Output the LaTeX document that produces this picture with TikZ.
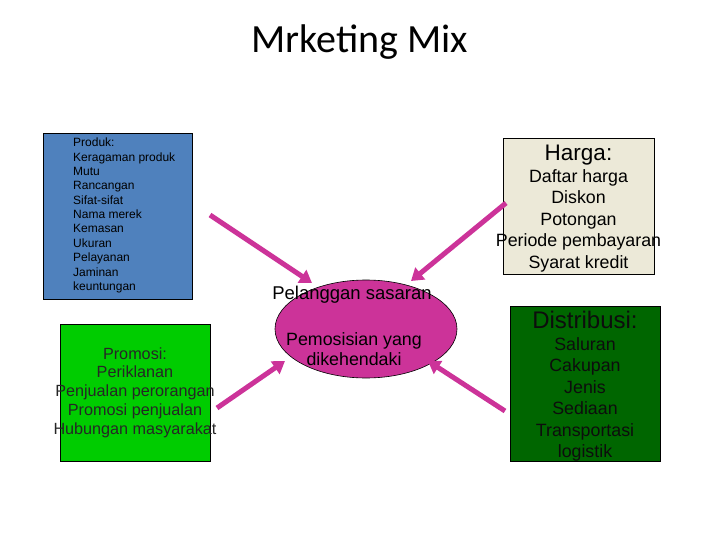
\documentclass[tikz,border=0pt]{standalone}
\usepackage{fontspec}
\setmainfont{Liberation Sans}
\newfontfamily\titlefont{Carlito}
\usetikzlibrary{arrows.meta}
\definecolor{bluebox}{HTML}{4F81BD}
\definecolor{hargabox}{HTML}{ECE9D8}
\definecolor{greenbox}{HTML}{00CC00}
\definecolor{darkgreenbox}{HTML}{006600}
\definecolor{magentaarrow}{HTML}{CC3399}
\tikzset{
  boxstyle/.style={draw=black, line width=0.8pt, inner sep=0pt, anchor=north west},
  arrowstyle/.style={draw=magentaarrow, line width=5pt, -{Triangle[length=12pt,width=15pt]}},
}
\begin{document}
\begin{tikzpicture}[x=1pt,y=-1pt]
\useasboundingbox (0,0) rectangle (720,540);
% title
\node[font=\titlefont\fontsize{40}{44}\selectfont] (title) at (360,42) {Mrketing Mix};
% boxes
\node[boxstyle, fill=bluebox, minimum width=149pt, minimum height=166pt] (produk) at (43,133) {};
\node[anchor=north west, align=left, inner sep=0pt, font=\fontsize{12}{14.35}\selectfont] (produktext) at (73,138)
  {Produk:\\Keragaman produk\\Mutu\\Rancangan\\Sifat-sifat\\Nama merek\\Kemasan\\Ukuran\\Pelayanan\\Jaminan\\keuntungan};
\node[boxstyle, fill=hargabox, minimum width=151pt, minimum height=136pt] (harga) at (503,138) {};
\node[anchor=north, align=center, inner sep=0pt, font=\fontsize{17.8}{21.5}\selectfont] (hargatext) at (578.5,145)
  {{\fontsize{22.5}{21.5}\selectfont Harga:}\\Daftar harga\\Diskon\\Potongan\\Periode pembayaran\\Syarat kredit};
\node[boxstyle, fill=greenbox, minimum width=150pt, minimum height=137pt] (promosi) at (60,324) {};
\node[anchor=center, align=center, inner sep=0pt, text=black!85, font=\fontsize{16.2}{18.8}\selectfont] (promositext) at (135,392.5)
  {Promosi:\\Periklanan\\Penjualan perorangan\\Promosi penjualan\\Hubungan masyarakat};
\node[boxstyle, fill=darkgreenbox, minimum width=150pt, minimum height=155pt] (distribusi) at (510,306) {};
\node[anchor=north, align=center, inner sep=0pt, text=black!95, font=\fontsize{17.8}{21.5}\selectfont] (distribusitext) at (585,311)
  {{\fontsize{24}{21.5}\selectfont Distribusi:}\\Saluran\\Cakupan\\Jenis\\Sediaan\\Transportasi\\logistik};
% ellipse
\draw[fill=magentaarrow, draw=black, line width=0.6pt] (366,329) ellipse [x radius=91, y radius=49];
\coordinate (center) at (366,329);
\node[font=\fontsize{18.5}{20}\selectfont, inner sep=0pt] (pelanggan) at (352,295) {Pelanggan sasaran};
\node[align=center, font=\fontsize{17.8}{19.5}\selectfont, inner sep=0pt] (pemosisian) at (354,349) {Pemosisian yang\\dikehendaki};
% arrow endpoints
\coordinate (a1s) at (210,215); \coordinate (a1e) at (312,283);
\coordinate (a2s) at (506,203); \coordinate (a2e) at (411,281);
\coordinate (a3s) at (217,408); \coordinate (a3e) at (285,361);
\coordinate (a4s) at (505,411); \coordinate (a4e) at (428,361);
\draw[arrowstyle] (a1s) -- (a1e);
\draw[arrowstyle] (a2s) -- (a2e);
\draw[arrowstyle] (a3s) -- (a3e);
\draw[arrowstyle] (a4s) -- (a4e);
\end{tikzpicture}
\end{document}
